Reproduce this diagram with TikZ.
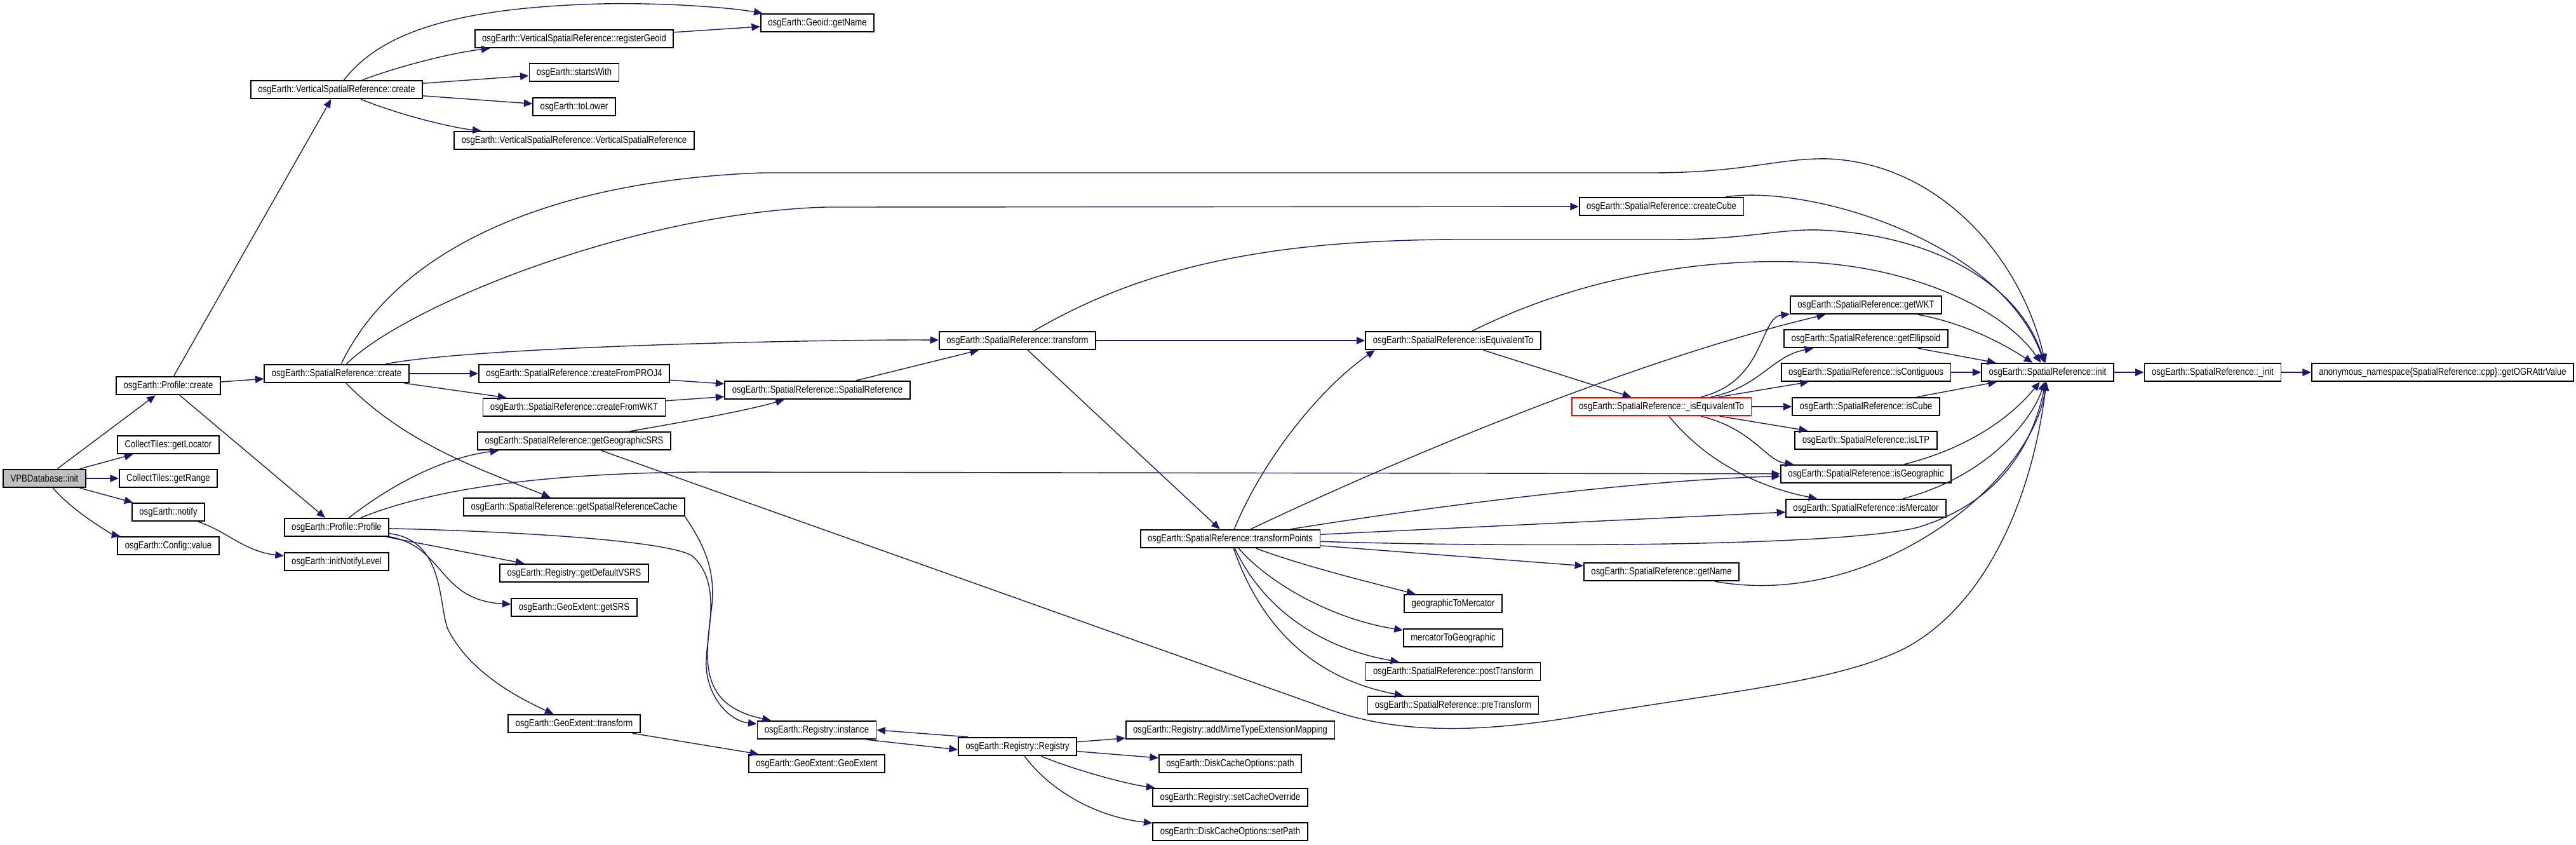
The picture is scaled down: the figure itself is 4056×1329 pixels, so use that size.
\documentclass[tikz,border=0pt]{standalone}
\usepackage{fontspec}
\newfontfamily\dxfont{Liberation Sans}[FakeStretch=0.83]
\usetikzlibrary{arrows.meta}
\definecolor{edgeblue}{RGB}{25,25,112}
\tikzset{
  fn/.style={draw=black, line width=0.5pt, fill=white, inner xsep=1.15mm, inner ysep=0pt,
    minimum height=2.85mm, font=\dxfont\fontsize{4.5pt}{5pt}\selectfont},
  rootfn/.style={fn, fill=black!25},
  hotfn/.style={fn, draw=red},
  call/.style={draw=edgeblue, line width=0.4pt, -{Triangle[length=1.35mm,width=1.15mm]}},
}

\begin{document}
\begin{tikzpicture}[x=0.1mm, y=-0.1mm]
    \useasboundingbox (0,0) rectangle (4056,1329);

    % 第一列
    \node[rootfn] (vpb) at (70,753) {VPBDatabase::init};

    % 第二列
    \node[fn] (profCreate) at (265,607) {osgEarth::Profile::create};
    \node[fn] (getLocator) at (265,700) {CollectTiles::getLocator};
    \node[fn] (getRange) at (265,753) {CollectTiles::getRange};
    \node[fn] (notify) at (265,806) {osgEarth::notify};
    \node[fn] (cfgValue) at (265,859) {osgEarth::Config::value};

    % 第三列
    \node[fn] (vsrCreate) at (530,141) {osgEarth::VerticalSpatialReference::create};
    \node[fn] (srCreate) at (530,588) {osgEarth::SpatialReference::create};
    \node[fn] (profProfile) at (530,830) {osgEarth::Profile::Profile};
    \node[fn] (initNotify) at (530,884) {osgEarth::initNotifyLevel};

    % 第四列
    \node[fn] (regGeoid) at (904,61) {osgEarth::VerticalSpatialReference::registerGeoid};
    \node[fn] (startsWith) at (904,114) {osgEarth::startsWith};
    \node[fn] (toLower) at (904,168) {osgEarth::toLower};
    \node[fn] (vsrCtor) at (904,221) {osgEarth::VerticalSpatialReference::VerticalSpatialReference};
    \node[fn] (fromProj) at (904,588) {osgEarth::SpatialReference::createFromPROJ4};
    \node[fn] (fromWkt) at (904,641) {osgEarth::SpatialReference::createFromWKT};
    \node[fn] (geoSrs) at (904,694) {osgEarth::SpatialReference::getGeographicSRS};
    \node[fn] (srCache) at (904,798) {osgEarth::SpatialReference::getSpatialReferenceCache};
    \node[fn] (defVsrs) at (904,902) {osgEarth::Registry::getDefaultVSRS};
    \node[fn] (extSrs) at (904,956) {osgEarth::GeoExtent::getSRS};
    \node[fn] (extTransform) at (904,1139) {osgEarth::GeoExtent::transform};

    % 第五列
    \node[fn] (geoidName) at (1287,36) {osgEarth::Geoid::getName};
    \node[fn] (srCtor) at (1287,614) {osgEarth::SpatialReference::SpatialReference};
    \node[fn] (regInstance) at (1286,1149) {osgEarth::Registry::instance};
    \node[fn] (geoExtent) at (1286,1202) {osgEarth::GeoExtent::GeoExtent};

    % 第六列
    \node[fn] (srTransform) at (1602,536) {osgEarth::SpatialReference::transform};
    \node[fn] (registry) at (1602,1175) {osgEarth::Registry::Registry};

    % 第七列
    \node[fn] (tfPoints) at (1937,848) {osgEarth::SpatialReference::transformPoints};
    \node[fn] (addMime) at (1937,1149) {osgEarth::Registry::addMimeTypeExtensionMapping};
    \node[fn] (cachePath) at (1937,1202) {osgEarth::DiskCacheOptions::path};
    \node[fn] (cacheOverride) at (1937,1255) {osgEarth::Registry::setCacheOverride};
    \node[fn] (cacheSetPath) at (1937,1309) {osgEarth::DiskCacheOptions::setPath};

    % 第八列
    \node[fn] (isEquiv) at (2288,536) {osgEarth::SpatialReference::isEquivalentTo};
    \node[fn] (geoToMerc) at (2288,950) {geographicToMercator};
    \node[fn] (mercToGeo) at (2288,1004) {mercatorToGeographic};
    \node[fn] (postTf) at (2288,1057) {osgEarth::SpatialReference::postTransform};
    \node[fn] (preTf) at (2288,1110) {osgEarth::SpatialReference::preTransform};

    % 第九列
    \node[fn] (createCube) at (2616,325) {osgEarth::SpatialReference::createCube};
    \node[hotfn] (isEquivImpl) at (2616,640) {osgEarth::SpatialReference::\_isEquivalentTo};
    \node[fn] (srName) at (2616,900) {osgEarth::SpatialReference::getName};

    % 第十列
    \node[fn] (getWkt) at (2938,480) {osgEarth::SpatialReference::getWKT};
    \node[fn] (getEllipsoid) at (2938,533) {osgEarth::SpatialReference::getEllipsoid};
    \node[fn] (isContiguous) at (2938,586) {osgEarth::SpatialReference::isContiguous};
    \node[fn] (isCube) at (2938,640) {osgEarth::SpatialReference::isCube};
    \node[fn] (isLtp) at (2938,693) {osgEarth::SpatialReference::isLTP};
    \node[fn] (isGeographic) at (2938,746) {osgEarth::SpatialReference::isGeographic};
    \node[fn] (isMercator) at (2938,800) {osgEarth::SpatialReference::isMercator};

    % 最右边
    \node[fn] (srInit) at (3224,586) {osgEarth::SpatialReference::init};
    \node[fn] (srInitImpl) at (3484,586) {osgEarth::SpatialReference::\_init};
    \node[fn] (ogrAttr) at (3846,586) {anonymous\_namespace\{SpatialReference::cpp\}::getOGRAttrValue};

    % VPBDatabase::init 的调用
    \draw[call] (vpb) -- (profCreate);
    \draw[call] (vpb) -- (getLocator);
    \draw[call] (vpb) -- (getRange);
    \draw[call] (vpb) -- (notify);
    \draw[call] (vpb) .. controls (120,810) and (180,842) .. (cfgValue);
    \draw[call] (notify) .. controls (355,835) and (385,868) .. (initNotify);

    % Profile::create
    \draw[call] (profCreate) -- (vsrCreate);
    \draw[call] (profCreate) -- (srCreate);
    \draw[call] (profCreate) -- (profProfile);

    % VerticalSpatialReference::create
    \draw[call] (vsrCreate) .. controls (600,50) and (720,12) .. (947,6)
        .. controls (1050,4) and (1150,12) .. (geoidName);
    \draw[call] (vsrCreate) .. controls (640,100) and (720,82) .. (regGeoid);
    \draw[call] (vsrCreate) -- (startsWith);
    \draw[call] (vsrCreate) -- (toLower);
    \draw[call] (vsrCreate) .. controls (640,185) and (720,202) .. (vsrCtor);
    \draw[call] (regGeoid) -- (geoidName);

    % SpatialReference::create
    \draw[call] (srCreate) .. controls (620,400) and (850,285) .. (1200,272) -- (2600,272)
        .. controls (2750,272) and (2800,248) .. (2880,250)
        .. controls (3050,258) and (3180,400) .. (srInit);
    \draw[call] (srCreate) .. controls (640,480) and (1000,335) .. (1300,326) -- (createCube);
    \draw[call] (srCreate) .. controls (750,545) and (1300,534) .. (srTransform);
    \draw[call] (srCreate) -- (fromProj);
    \draw[call] (srCreate) -- (fromWkt);
    \draw[call] (srCreate) .. controls (640,700) and (760,740) .. (srCache);
    \draw[call] (fromProj) -- (srCtor);
    \draw[call] (fromWkt) -- (srCtor);
    \draw[call] (geoSrs) .. controls (1100,660) and (1180,645) .. (srCtor);
    \draw[call] (srCtor) -- (srTransform);

    % SpatialReference::transform
    \draw[call] (srTransform) -- (isEquiv);
    \draw[call] (srTransform) -- (tfPoints);
    \draw[call] (srTransform) .. controls (1800,420) and (2000,377) .. (2300,377) -- (2629,377)
        .. controls (2750,377) and (2800,360) .. (2865,362)
        .. controls (3050,370) and (3180,450) .. (srInit);
    \draw[call] (createCube) .. controls (2850,290) and (3150,380) .. (srInit);

    % isEquivalentTo
    \draw[call] (isEquiv) -- (isEquivImpl);
    \draw[call] (isEquiv) .. controls (2500,430) and (2700,405) .. (2850,413)
        .. controls (3000,420) and (3150,480) .. (srInit);
    \draw[call] (isEquivImpl) .. controls (2780,600) and (2770,500) .. (getWkt);
    \draw[call] (isEquivImpl) .. controls (2770,610) and (2790,560) .. (getEllipsoid);
    \draw[call] (isEquivImpl) -- (isContiguous);
    \draw[call] (isEquivImpl) -- (isCube);
    \draw[call] (isEquivImpl) -- (isLtp);
    \draw[call] (isEquivImpl) .. controls (2760,675) and (2780,725) .. (isGeographic);
    \draw[call] (isEquivImpl) .. controls (2680,720) and (2760,765) .. (isMercator);

    % 到 SpatialReference::init
    \draw[call] (getWkt) .. controls (3100,510) and (3160,545) .. (srInit);
    \draw[call] (getEllipsoid) -- (srInit);
    \draw[call] (isContiguous) -- (srInit);
    \draw[call] (isCube) -- (srInit);
    \draw[call] (isGeographic) .. controls (3120,700) and (3180,640) .. (srInit);
    \draw[call] (isMercator) .. controls (3130,750) and (3200,660) .. (srInit);
    \draw[call] (srInit) -- (srInitImpl);
    \draw[call] (srInitImpl) -- (ogrAttr);

    % transformPoints
    \draw[call] (tfPoints) .. controls (1990,720) and (2080,610) .. (isEquiv.187);
    \draw[call] (tfPoints) .. controls (2250,700) and (2600,560) .. (getWkt);
    \draw[call] (tfPoints) .. controls (2300,790) and (2600,755) .. (isGeographic);
    \draw[call] (tfPoints) -- (isMercator);
    \draw[call] (tfPoints) .. controls (2400,862) and (2900,860) .. (3020,830)
        .. controls (3150,790) and (3200,700) .. (srInit);
    \draw[call] (tfPoints) -- (srName);
    \draw[call] (tfPoints) .. controls (2050,890) and (2150,915) .. (geoToMerc);
    \draw[call] (tfPoints) .. controls (2000,920) and (2100,975) .. (mercToGeo);
    \draw[call] (tfPoints) .. controls (1990,960) and (2080,1020) .. (postTf);
    \draw[call] (tfPoints) .. controls (1990,1000) and (2080,1070) .. (preTf);
    \draw[call] (srName) .. controls (2950,960) and (3200,760) .. (srInit);
    \draw[call] (geoSrs) -- (2080,1112) .. controls (2180,1150) and (2300,1160) .. (2500,1125)
        .. controls (2750,1085) and (2900,1070) .. (3000,1020)
        .. controls (3130,950) and (3200,780) .. (srInit);

    % Profile::Profile
    \draw[call] (profProfile) .. controls (620,760) and (700,720) .. (geoSrs);
    \draw[call] (profProfile) .. controls (680,770) and (850,745) .. (1100,743) -- (isGeographic);
    \draw[call] (profProfile) .. controls (800,836) and (1050,850) .. (1090,875)
        .. controls (1140,920) and (1110,1000) .. (1112,1050)
        .. controls (1115,1100) and (1150,1135) .. (regInstance);
    \draw[call] (srCache.south east) .. controls (1110,860) and (1128,900) .. (1120,960)
        .. controls (1110,1040) and (1100,1110) .. (regInstance);
    \draw[call] (profProfile) -- (defVsrs);
    \draw[call] (profProfile) .. controls (700,860) and (690,945) .. (extSrs);
    \draw[call] (profProfile) .. controls (700,850) and (690,950) .. (705,990)
        .. controls (740,1060) and (820,1100) .. (extTransform);
    \draw[call] (extTransform) -- (geoExtent);

    % Registry
    \draw[call] (regInstance.-11) -- (registry.183);
    \draw[call] (registry.169) -- (regInstance.east);
    \draw[call] (registry) -- (addMime);
    \draw[call] (registry) -- (cachePath);
    \draw[call] (registry) .. controls (1700,1215) and (1780,1235) .. (cacheOverride);
    \draw[call] (registry) .. controls (1650,1240) and (1720,1285) .. (cacheSetPath);
\end{tikzpicture}
\end{document}
